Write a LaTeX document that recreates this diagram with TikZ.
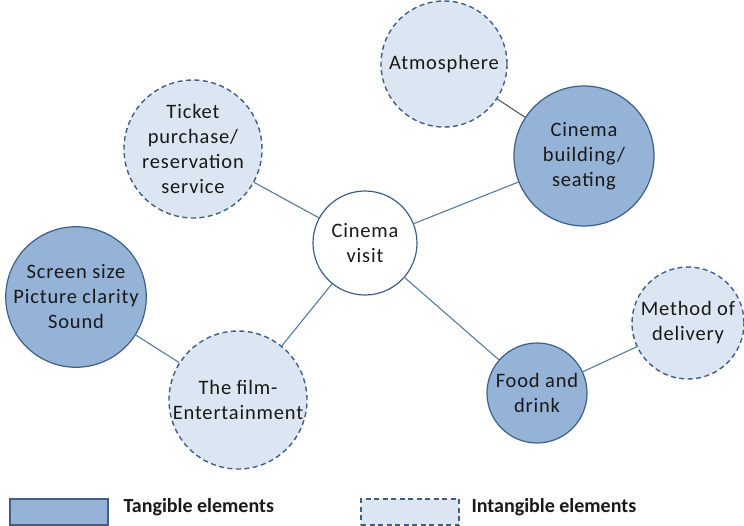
\documentclass[tikz,border=0pt]{standalone}
\usepackage{fontspec}
\setmainfont{Carlito}[LetterSpace=4]
\begin{document}
\definecolor{tangfill}{HTML}{95B3D7}
\definecolor{intfill}{HTML}{DCE6F2}
\definecolor{rimblue}{HTML}{3F5F88}
\definecolor{linkblue}{HTML}{5679A6}
\begin{tikzpicture}[x=1pt,y=-1pt,
  every node/.style={font=\fontsize{20.5}{25}\selectfont, align=center, text=black!90},
  bubble/.style={circle, draw=rimblue, line width=1.2pt, inner sep=0pt},
  tangible/.style={bubble, fill=tangfill},
  intangible/.style={bubble, fill=intfill, dash pattern=on 5pt off 3.5pt, line width=1.4pt},
  core/.style={bubble, fill=white},
  link/.style={draw=linkblue, line width=1.1pt},
  legendbox/.style={draw=rimblue, line width=1.2pt, minimum width=98pt, minimum height=26pt, inner sep=0pt},
  legendtext/.style={font=\fontsize{20}{24}\selectfont\bfseries\addfontfeature{LetterSpace=0}, anchor=west}]
\useasboundingbox (0,0) rectangle (744,525);

% main hub and its surrounding elements
\node[core, minimum size=104pt] (visit) at (365,243) {Cinema\\visit};
\node[intangible, minimum size=138pt] (ticket) at (193,149) {Ticket\\purchase/\\reservation\\service};
\node[intangible, minimum size=126pt] (atmos) at (444,64) {Atmosphere};
\node[tangible, minimum size=140pt] (building) at (584,156) {Cinema\\building/\\seating};
\node[tangible, minimum size=136pt] (screen) at (76,297) {Screen size\\Picture clarity\\Sound};
\node[intangible, minimum size=138pt] (film) at (238,400) {The film-\\Entertainment};
\node[tangible, minimum size=100pt] (food) at (537,393) {Food and\\drink};
\node[intangible, minimum size=112pt] (delivery) at (688,323) {Method of\\delivery};

% connectors
\draw[link] (visit) -- (ticket);
\draw[link] (visit) -- (building);
\draw[link] (visit) -- (film);
\draw[link] (visit) -- (food);
\draw[draw=black!65, line width=1.1pt] (atmos) -- (building);
\draw[link] (screen) -- (film);
\draw[link] (food) -- (delivery);

% legend
\node[legendbox, fill=tangfill] (keyT) at (59,512) {};
\node[legendtext] (keyTtext) at (120,507) {Tangible elements};
\node[legendbox, fill=intfill, dash pattern=on 5pt off 3.5pt, line width=1.4pt] (keyI) at (410,512) {};
\node[legendtext] (keyItext) at (468,507) {Intangible elements};
\end{tikzpicture}
\end{document}
